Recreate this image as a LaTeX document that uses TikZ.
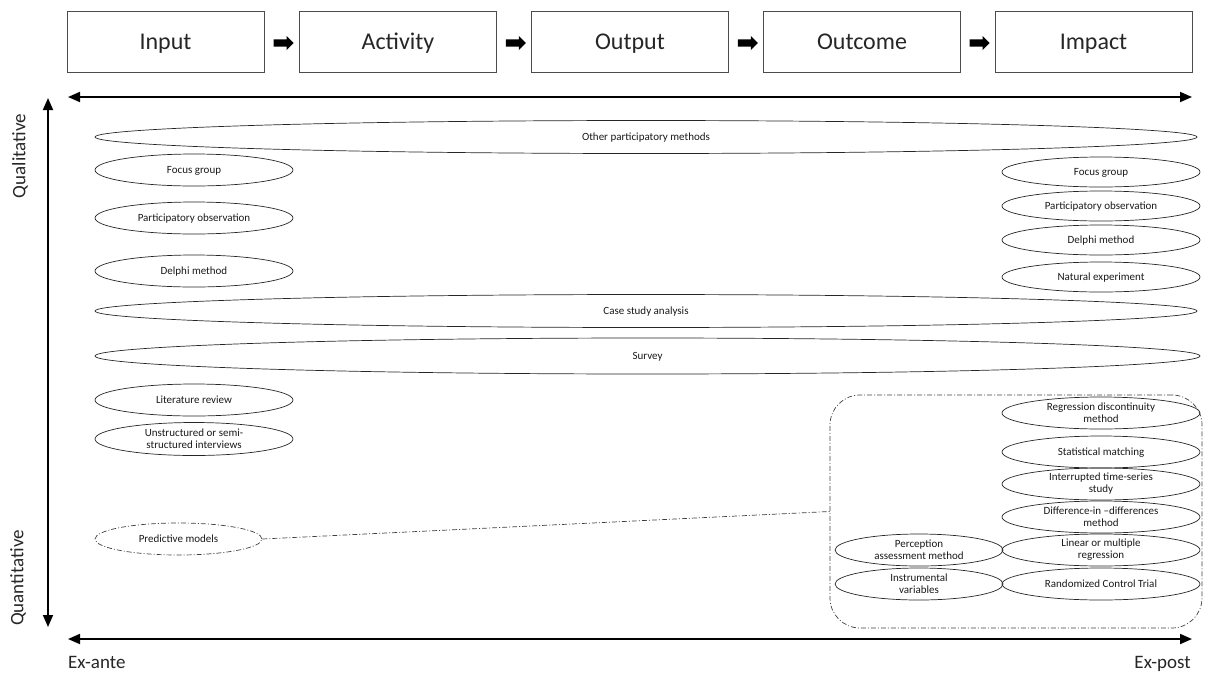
\documentclass[tikz,border=0pt]{standalone}
\usepackage{fontspec}
\setmainfont{Carlito}
\usetikzlibrary{shapes.geometric,shapes.arrows,arrows.meta,calc}
\begin{document}
\begin{tikzpicture}[x=1pt,y=-1pt,
  stage/.style={draw=black!70, line width=0.8pt, minimum width=197pt, minimum height=61pt,
    inner sep=0pt, text height=17pt, text depth=2pt,
    font=\fontsize{24}{28}\selectfont, text=black!85},
  flow/.style={single arrow, fill=black, draw=none, inner sep=3.4pt,
    minimum height=20pt, single arrow head extend=3.4pt},
  axis/.style={line width=1.8pt,
    {Triangle[length=12pt,width=10pt]}-{Triangle[length=12pt,width=10pt]}},
  axislabel/.style={font=\fontsize{19}{22}\selectfont, text=black!85, inner sep=0pt},
  meth/.style={ellipse, draw=black!85, line width=0.7pt, inner sep=0pt,
    minimum width=198pt, minimum height=32pt, align=center, text=black!90,
    font=\fontsize{11}{12}\selectfont},
  oneline/.style={text height=7.5pt, text depth=1.5pt},
  dashdot/.style={dash pattern=on 5pt off 2pt on 1pt off 2pt, draw=black!75, line width=0.7pt}
]
\useasboundingbox (0,0) rectangle (1210,673);

% results chain
\node[stage] (in)  at (165.5,41.5) {Input};
\node[stage] (act) at (398,41.5)   {Activity};
\node[stage] (out) at (630,41.5)   {Output};
\node[stage] (oc)  at (862,41.5)   {Outcome};
\node[stage] (imp) at (1093.5,41.5){Impact};
\node[flow] (f1) at ($(in.east)!0.5!(act.west)+(0,1.5)$) {};
\node[flow] (f2) at ($(act.east)!0.5!(out.west)+(0,1.5)$) {};
\node[flow] (f3) at ($(out.east)!0.5!(oc.west)+(0,1.5)$) {};
\node[flow] (f4) at ($(oc.east)!0.5!(imp.west)+(0,1.5)$) {};

% axes
\coordinate (tl) at (68,97);
\coordinate (tr) at (1192,97);
\coordinate (bl) at (68,639);
\coordinate (br) at (1192,639);
\coordinate (vt) at (48,98);
\coordinate (vb) at (48,627);
\draw[axis] (tl) -- (tr);
\draw[axis] (bl) -- (br);
\draw[axis] (vt) -- (vb);
\node[axislabel, rotate=90] (qual) at (20,156) {Qualitative};
\node[axislabel, rotate=90] (quan) at (18,578) {Quantitative};
\node[axislabel, anchor=base west] (exa) at (68,668) {Ex-ante};
\node[axislabel, anchor=base east] (exp) at (1191,668) {Ex-post};

% methods spanning the whole time line
\node[meth, oneline, minimum width=1102pt, minimum height=33pt] (opm) at (646,137) {Other participatory methods};
\node[meth, oneline, minimum width=1102pt, minimum height=33pt] (csa) at (646,311) {Case study analysis};
\node[meth, oneline, minimum width=1105pt, minimum height=36pt] (srv) at (647.5,356) {Survey};

% ex-ante methods
\node[meth, oneline] (lfg) at (194,170) {Focus group};
\node[meth, oneline] (lpo) at (194,218) {Participatory observation};
\node[meth, oneline] (ldm) at (194,271) {Delphi method};
\node[meth, oneline] (llr) at (194,400) {Literature review};
\node[meth, minimum height=33pt] (lui) at (194,439) {Unstructured or semi-\\structured interviews};
\node[meth, oneline, dashdot, minimum width=167pt] (pm) at (178.5,539) {Predictive models};

% ex-post qualitative methods
\node[meth, oneline, minimum height=30pt] (rfg) at (1101,172) {Focus group};
\node[meth, oneline, minimum height=30pt] (rpo) at (1101,206) {Participatory observation};
\node[meth, oneline, minimum height=30pt] (rdm) at (1101,240) {Delphi method};
\node[meth, oneline, minimum height=30pt] (rne) at (1101,277) {Natural experiment};

% ex-post quantitative methods
\node[dashdot, rounded corners=30pt, minimum width=372pt, minimum height=233pt, inner sep=0pt] (qbox) at (1016,511.5) {};
\node[meth] (rdc) at (1101,413) {Regression discontinuity\\method};
\node[meth, oneline] (rsm) at (1101,452) {Statistical matching};
\node[meth] (rit) at (1101,484) {Interrupted time-series\\study};
\node[meth] (rdd) at (1101,517) {Difference-in –differences\\method};
\node[meth] (rlm) at (1101,550) {Linear or multiple\\regression};
\node[meth, oneline] (rct) at (1101,584) {Randomized Control Trial};
\node[meth, minimum width=168pt] (pam) at (919,550) {Perception\\assessment method};
\node[meth, minimum width=168pt] (iv)  at (919,584) {Instrumental\\variables};

\draw[dashdot] (pm.east) -- (qbox.west);
\end{tikzpicture}
\end{document}
